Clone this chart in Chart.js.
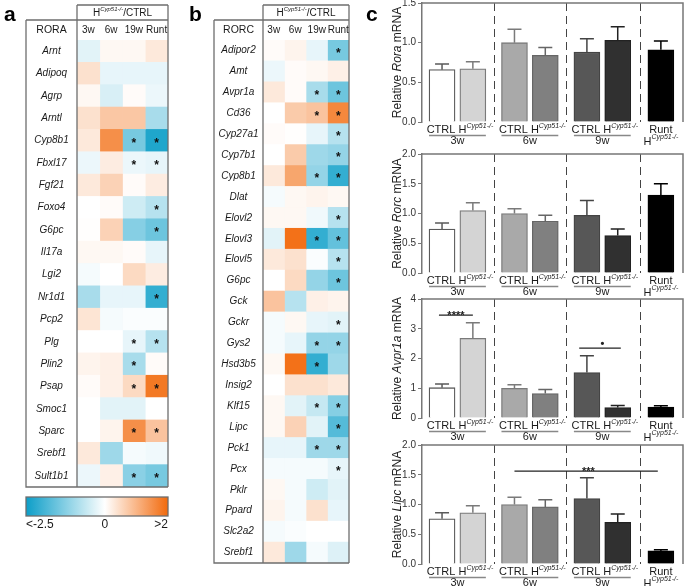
<!DOCTYPE html>
<html>
<head>
<meta charset="utf-8">
<script src="https://cdn.jsdelivr.net/npm/chart.js@4.4.0/dist/chart.umd.min.js"></script>
<style>
body { margin: 0; width: 685px; height: 586px; overflow: hidden; background: #fff; position: relative; }
.box { position: absolute; }
</style>
</head>
<body>
<div class="box" style="left:0;top:0;width:180px;height:540px"><canvas id="heatA"></canvas></div>
<div class="box" style="left:180px;top:0;width:180px;height:586px"><canvas id="heatB"></canvas></div>
<div class="box" style="left:360px;top:-5px;width:325px;height:157px"><canvas id="barRora"></canvas></div>
<div class="box" style="left:360px;top:146px;width:325px;height:157px"><canvas id="barRorc"></canvas></div>
<div class="box" style="left:360px;top:291px;width:325px;height:157px"><canvas id="barAvpr1a"></canvas></div>
<div class="box" style="left:360px;top:437px;width:325px;height:157px"><canvas id="barLipc"></canvas></div>
<script>
const F = '"Liberation Sans", Arial, sans-serif';
const FN = '"Liberation Sans Narrow", "Liberation Sans", Arial, sans-serif';
const HEAT_COLS = ['3w', '6w', '19w', 'Runt'];

// panel a: log2 ratio H/CTRL per gene
const RORA_GENES = ['Arnt', 'Adipoq', 'Agrp', 'Arntl', 'Cyp8b1', 'Fbxl17', 'Fgf21', 'Foxo4', 'G6pc', 'Il17a',
    'Lgi2', 'Nr1d1', 'Pcp2', 'Plg', 'Plin2', 'Psap', 'Smoc1', 'Sparc', 'Srebf1', 'Sult1b1'];
const RORA_3W = [-0.3, 0.4, 0.1, 0.4, 0.3, -0.2, 0.3, 0, 0.02, 0.1, -0.1, -0.9, 0.35, 0, 0.15, 0.05, 0, 0, 0.3, -0.2];
const RORA_6W = [0.1, -0.25, -0.4, 0.75, 1.5, 0.25, 0.6, 0.05, 0.6, 0.1, 0, -0.25, -0.1, 0, 0.2, 0.2, -0.3, 0.15, -1.0, 0.2];
const RORA_19W = [0.1, -0.25, 0.05, 0.75, -1.4, -0.2, 0.05, -0.5, -1.25, 0.05, 0.5, -0.25, -0.05, -0.25, -0.9, 0.5, -0.3, 1.5, -0.1, -1.2];
const RORA_RUNT = [0.3, -0.25, -0.2, -0.9, -2.3, -0.25, 0.25, -0.75, -1.5, -0.25, 0.25, -2.1, -0.05, -0.75, 0.05, 1.8, 0, 0.8, -0.15, -1.4];
const RORA_SIG_19W = ['Cyp8b1', 'Fbxl17', 'Plg', 'Plin2', 'Psap', 'Sparc', 'Sult1b1'];
const RORA_SIG_RUNT = ['Cyp8b1', 'Fbxl17', 'Foxo4', 'G6pc', 'Nr1d1', 'Plg', 'Psap', 'Sparc', 'Sult1b1'];

// panel b
const RORC_GENES = ['Adipor2', 'Amt', 'Avpr1a', 'Cd36', 'Cyp27a1', 'Cyp7b1', 'Cyp8b1', 'Dlat', 'Elovl2', 'Elovl3',
    'Elovl5', 'G6pc', 'Gck', 'Gckr', 'Gys2', 'Hsd3b5', 'Insig2', 'Klf15', 'Lipc', 'Pck1', 'Pcx', 'Pklr', 'Ppard',
    'Slc2a2', 'Srebf1'];
const RORC_3W = [0.05, -0.2, 0.3, 0, 0.05, 0, 0.3, -0.1, 0.1, -0.3, 0.3, 0, 0.8, -0.1, -0.1, 0.1, 0, 0.1, 0.1, -0.25, -0.1, 0.1, 0.15, -0.1, 0.3];
const RORC_6W = [0.15, 0.05, 0.05, 0.7, 0.02, 0.7, 1.2, 0.1, 0.1, 1.9, 0.4, 0.5, -0.75, 0.1, -0.25, 1.9, 0.4, -0.3, 0.6, -0.25, -0.1, -0.1, -0.1, -0.05, -1.0];
const RORC_19W = [-0.25, 0.1, -0.9, 0.8, -0.25, -1.0, -1.1, 0.15, -0.15, -2.1, -0.05, -1.1, 0.2, -0.25, -1.1, -2.1, 0.4, -0.6, -0.3, -1.0, -0.1, -0.5, 0.4, 0, -0.1];
const RORC_RUNT = [-1.4, 0.2, -1.5, 1.6, -0.75, -1.1, -2.1, 0.1, -0.75, -1.6, -0.75, -1.5, 0.15, -0.3, -1.1, -1.0, 0.3, -1.25, -1.75, -1.0, -0.25, -0.3, -0.25, 0, -0.35];
const RORC_SIG_19W = ['Avpr1a', 'Cd36', 'Cyp8b1', 'Elovl3', 'Gys2', 'Hsd3b5', 'Klf15', 'Pck1'];
const RORC_SIG_RUNT = ['Adipor2', 'Avpr1a', 'Cd36', 'Cyp27a1', 'Cyp7b1', 'Cyp8b1', 'Elovl2', 'Elovl3', 'Elovl5',
    'G6pc', 'Gckr', 'Gys2', 'Klf15', 'Lipc', 'Pck1', 'Pcx'];

// panel c: bars CTRL/H at 3w, 6w, 9w and the runt
const BAR_X = [0, 1, 2.35, 3.35, 4.7, 5.7, 7.1];
const BAR_GROUPS = ['3w', '6w', '9w'];
const BAR_DIVIDERS = [1.7, 4.03, 6.41];
const RORA_MEAN = [0.66, 0.67, 1.00, 0.84, 0.88, 1.03, 0.91];
const RORA_SEM = [0.07, 0.09, 0.17, 0.10, 0.17, 0.17, 0.11];
const RORC_MEAN = [0.74, 1.05, 1.00, 0.87, 0.97, 0.63, 1.31];
const RORC_SEM = [0.10, 0.13, 0.08, 0.10, 0.25, 0.11, 0.19];
const AVPR1A_MEAN = [1.02, 2.68, 1.00, 0.82, 1.53, 0.35, 0.37];
const AVPR1A_SEM = [0.12, 0.52, 0.12, 0.14, 0.56, 0.07, 0.04];
const LIPC_MEAN = [0.76, 0.86, 1.00, 0.96, 1.10, 0.70, 0.22];
const LIPC_SEM = [0.10, 0.12, 0.12, 0.12, 0.35, 0.14, 0.02];
const AVPR1A_SIG = [[-0.1, 1.0, 3.46, '****', 0.45], [4.45, 5.8, 2.35, '\u2022', 5.2]];
const LIPC_SIG = [[2.35, 7.0, 1.56, '***', 4.75]];

const BAR_FILL = ['#ffffff', '#d4d4d4', '#a9a9a9', '#808080', '#575757', '#303030', '#000000'];
const BAR_EDGE = ['#5a5a5a', '#7a7a7a', '#7a7a7a', '#666666', '#444444', '#222222', '#000000'];

function heatColor(v) {
    const t = Math.min(1, Math.abs(v) / (v < 0 ? 2.5 : 2));
    const end = v < 0 ? [12, 158, 200] : [242, 106, 12];
    const c = end.map(e => Math.round(255 + (e - 255) * t));
    return 'rgb(' + c.join(',') + ')';
}

function drawRich(ctx, parts, x, y, align) {
    let w = 0;
    parts.forEach(p => { ctx.font = p[1]; w += ctx.measureText(p[0]).width; });
    let cx = align === 'center' ? x - w / 2 : (align === 'right' ? x - w : x);
    ctx.textAlign = 'left';
    parts.forEach(p => {
        ctx.font = p[1];
        ctx.fillText(p[0], cx, y + (p[2] || 0));
        cx += ctx.measureText(p[0]).width;
    });
}

function hCyp(size, fam) {
    fam = fam || F;
    return [['H', size + 'px ' + fam], ['Cyp51-/-', 'italic ' + Math.round(size * 0.62) + 'px ' + fam, -size * 0.38]];
}

function buildHeat(name, title, genes, cols, sig, geo) {
    const canvas = document.getElementById(name);
    const datasets = cols.map((vals, j) => ({
        label: HEAT_COLS[j],
        data: genes.map(() => 1),
        backgroundColor: vals.map(heatColor),
        borderWidth: 0,
        barPercentage: 1,
        categoryPercentage: 1,
    }));
    const decor = {
        id: 'heatDecor',
        afterDraw(chart) {
            const ctx = chart.ctx, ca = chart.chartArea;
            const xs = chart.scales.x, ys = chart.scales.y;
            const L = geo.tableLeft, S = ca.left, R = ca.right;
            ctx.save();
            ctx.fillStyle = '#111';
            ctx.textBaseline = 'middle';
            ctx.textAlign = 'center';
            ctx.font = 'bold 12px ' + F;
            sig.forEach((list, j) => list.forEach(g => {
                const i = genes.indexOf(g);
                ctx.fillText('*', xs.getPixelForValue(j + 0.5), ys.getPixelForValue(i) + 3);
            }));
            ctx.strokeStyle = '#6e6e6e';
            ctx.lineWidth = 1.3;
            ctx.beginPath();
            ctx.moveTo(S, 5); ctx.lineTo(R, 5);
            ctx.moveTo(L, 20); ctx.lineTo(R, 20);
            ctx.moveTo(L, 20); ctx.lineTo(L, ca.bottom); ctx.lineTo(R, ca.bottom);
            ctx.moveTo(R, 5); ctx.lineTo(R, ca.bottom);
            ctx.moveTo(S, 5); ctx.lineTo(S, ca.bottom);
            ctx.stroke();
            ctx.fillStyle = '#1a1a1a';
            drawRich(ctx, hCyp(10).concat([['/CTRL', '10px ' + F]]), (S + R) / 2, 13, 'center');
            ctx.textAlign = 'center';
            ctx.font = '10.5px ' + F;
            ctx.fillText(title, (L + S) / 2, 30);
            ctx.font = '10px ' + F;
            HEAT_COLS.forEach((c, j) => ctx.fillText(c, xs.getPixelForValue(j + 0.5), 30));
            ctx.font = 'italic 10px ' + F;
            genes.forEach((g, i) => ctx.fillText(g, (L + S) / 2, ys.getPixelForValue(i)));
            ctx.fillStyle = '#000';
            ctx.font = 'bold 21px ' + F;
            ctx.textAlign = 'left';
            ctx.fillText(geo.letter, geo.letterX, 15);
            if (geo.colorbar) {
                const y0 = ca.bottom + 10, h = 19;
                const grad = ctx.createLinearGradient(L, 0, R, 0);
                [-2.5, -1.875, -1.25, -0.625, 0, 0.5, 1, 1.5, 2].forEach(v => {
                    grad.addColorStop((v + 2.5) / 4.5, heatColor(v));
                });
                ctx.fillStyle = grad;
                ctx.fillRect(L, y0, R - L, h);
                ctx.strokeRect(L, y0, R - L, h);
                ctx.fillStyle = '#1a1a1a';
                ctx.font = '12px ' + F;
                ctx.fillText('<-2.5', L, y0 + h + 9);
                ctx.textAlign = 'center';
                ctx.fillText('0', L + (R - L) * 2.5 / 4.5, y0 + h + 9);
                ctx.textAlign = 'right';
                ctx.fillText('>2', R, y0 + h + 9);
            }
            ctx.restore();
        }
    };
    const config = {
        type: 'bar',
        data: { labels: genes, datasets: datasets },
        options: {
            indexAxis: 'y',
            responsive: true,
            maintainAspectRatio: false,
            animation: false,
            events: [],
            layout: { padding: geo.padding },
            plugins: { legend: { display: false }, tooltip: { enabled: false } },
            scales: {
                x: { stacked: true, min: 0, max: 4, display: false },
                y: { stacked: true, display: false },
            },
        },
        plugins: [decor],
    };
    return new Chart(canvas, config);
}

function buildBars(name, gene, mean, sem, ymax, step, dec, sig, letter) {
    const canvas = document.getElementById(name);
    const decor = {
        id: 'barDecor',
        beforeDatasetsDraw(chart) {
            const ctx = chart.ctx, ca = chart.chartArea, xs = chart.scales.x;
            ctx.save();
            ctx.strokeStyle = '#444';
            ctx.lineWidth = 1;
            ctx.setLineDash([8, 5]);
            BAR_DIVIDERS.forEach(d => {
                const x = Math.round(xs.getPixelForValue(d)) + 0.5;
                ctx.beginPath(); ctx.moveTo(x, ca.top); ctx.lineTo(x, ca.bottom); ctx.stroke();
            });
            ctx.restore();
        },
        afterDatasetsDraw(chart) {
            const ctx = chart.ctx, ca = chart.chartArea, xs = chart.scales.x, ys = chart.scales.y;
            ctx.save();
            ctx.lineWidth = 1.5;
            BAR_X.forEach((bx, i) => {
                const x = xs.getPixelForValue(bx);
                const y1 = ys.getPixelForValue(mean[i]);
                const y2 = ys.getPixelForValue(mean[i] + sem[i]);
                ctx.strokeStyle = BAR_EDGE[i];
                ctx.beginPath();
                ctx.moveTo(x, y1); ctx.lineTo(x, y2);
                ctx.moveTo(x - 7, y2); ctx.lineTo(x + 7, y2);
                ctx.stroke();
            });
            // plot frame
            ctx.strokeStyle = '#777';
            ctx.beginPath();
            ctx.moveTo(ca.left, ca.top); ctx.lineTo(ca.right - 1, ca.top); ctx.lineTo(ca.right - 1, ca.bottom);
            ctx.stroke();
            // significance
            ctx.strokeStyle = '#222';
            ctx.lineWidth = 1.2;
            ctx.fillStyle = '#222';
            ctx.textAlign = 'center';
            ctx.textBaseline = 'alphabetic';
            sig.forEach(s => {
                const y = ys.getPixelForValue(s[2]);
                ctx.beginPath();
                ctx.moveTo(xs.getPixelForValue(s[0]), y); ctx.lineTo(xs.getPixelForValue(s[1]), y);
                ctx.stroke();
                ctx.font = 'bold 11px ' + F;
                ctx.fillText(s[3], xs.getPixelForValue(s[4]), y + (s[3] === '\u2022' ? -1 : 4));
            });
            ctx.restore();
        },
        afterDraw(chart) {
            const ctx = chart.ctx, ca = chart.chartArea, xs = chart.scales.x;
            const b = ca.bottom;
            ctx.save();
            ctx.fillStyle = '#1a1a1a';
            ctx.textBaseline = 'middle';
            for (let i = 0; i < 6; i++) {
                const x = xs.getPixelForValue(BAR_X[i]);
                if (i % 2 === 0) {
                    ctx.font = '11px ' + FN;
                    ctx.textAlign = 'center';
                    ctx.fillText('CTRL', x - 1, b + 8);
                } else {
                    drawRich(ctx, hCyp(11, FN), x + 3, b + 8, 'center');
                }
            }
            ctx.strokeStyle = '#888';
            ctx.lineWidth = 1.5;
            BAR_GROUPS.forEach((g, k) => {
                const xa = xs.getPixelForValue(BAR_X[2 * k]) - 13;
                const xb = xs.getPixelForValue(BAR_X[2 * k + 1]) + 13;
                ctx.beginPath(); ctx.moveTo(xa, b + 13.5); ctx.lineTo(xb, b + 13.5); ctx.stroke();
                ctx.font = '11px ' + FN;
                ctx.textAlign = 'center';
                ctx.fillText(g, (xa + xb) / 2, b + 19);
            });
            const xr = xs.getPixelForValue(BAR_X[6]);
            ctx.font = '11px ' + FN;
            ctx.textAlign = 'center';
            ctx.fillText('Runt', xr, b + 8);
            drawRich(ctx, hCyp(11, FN), xr, b + 19.5, 'center');
            // y title with italic gene name
            ctx.translate(38, (ca.top + ca.bottom) / 2);
            ctx.rotate(-Math.PI / 2);
            ctx.fillStyle = '#222';
            drawRich(ctx, [['Relative ', '12px ' + F], [gene, 'italic 12px ' + F], [' mRNA', '12px ' + F]], 0, 0, 'center');
            ctx.restore();
            if (letter) {
                ctx.save();
                ctx.fillStyle = '#000';
                ctx.font = 'bold 21px ' + F;
                ctx.textBaseline = 'middle';
                ctx.fillText(letter, 6, 20);
                ctx.restore();
            }
        }
    };
    const config = {
        type: 'bar',
        data: {
            datasets: [{
                data: BAR_X.map((x, i) => ({ x: x, y: mean[i] })),
                backgroundColor: BAR_FILL,
                borderColor: BAR_EDGE,
                borderWidth: 1.3,
                barThickness: 26,
            }],
        },
        options: {
            responsive: true,
            maintainAspectRatio: false,
            animation: false,
            events: [],
            layout: { padding: { top: 8, right: 1, bottom: 30, left: 0 } },
            plugins: { legend: { display: false }, tooltip: { enabled: false } },
            scales: {
                x: { type: 'linear', min: -0.65, max: 7.85, offset: false, display: false },
                y: {
                    min: 0,
                    max: ymax,
                    ticks: {
                        stepSize: step,
                        color: '#333',
                        padding: 2,
                        font: { size: 10, family: F },
                        callback: v => v.toFixed(dec),
                    },
                    grid: { drawOnChartArea: false, drawTicks: true, tickLength: 4, color: '#777' },
                    border: { color: '#777', width: 1.5 },
                    afterFit: s => { s.width = 62; },
                },
            },
        },
        plugins: [decor],
    };
    return new Chart(canvas, config);
}

buildHeat('heatA', 'RORA', RORA_GENES, [RORA_3W, RORA_6W, RORA_19W, RORA_RUNT], [[], [], RORA_SIG_19W, RORA_SIG_RUNT],
    { tableLeft: 26, letter: 'a', letterX: 4, colorbar: true, padding: { left: 77, right: 12, top: 40, bottom: 53 } });
buildHeat('heatB', 'RORC', RORC_GENES, [RORC_3W, RORC_6W, RORC_19W, RORC_RUNT], [[], [], RORC_SIG_19W, RORC_SIG_RUNT],
    { tableLeft: 34, letter: 'b', letterX: 9, colorbar: false, padding: { left: 83, right: 11, top: 40, bottom: 23 } });
buildBars('barRora', 'Rora', RORA_MEAN, RORA_SEM, 1.5, 0.5, 1, [], 'c');
buildBars('barRorc', 'Rorc', RORC_MEAN, RORC_SEM, 2.0, 0.5, 1, [], null);
buildBars('barAvpr1a', 'Avpr1a', AVPR1A_MEAN, AVPR1A_SEM, 4, 1, 0, AVPR1A_SIG, null);
buildBars('barLipc', 'Lipc', LIPC_MEAN, LIPC_SEM, 2.0, 0.5, 1, LIPC_SIG, null);
</script>
</body>
</html>
